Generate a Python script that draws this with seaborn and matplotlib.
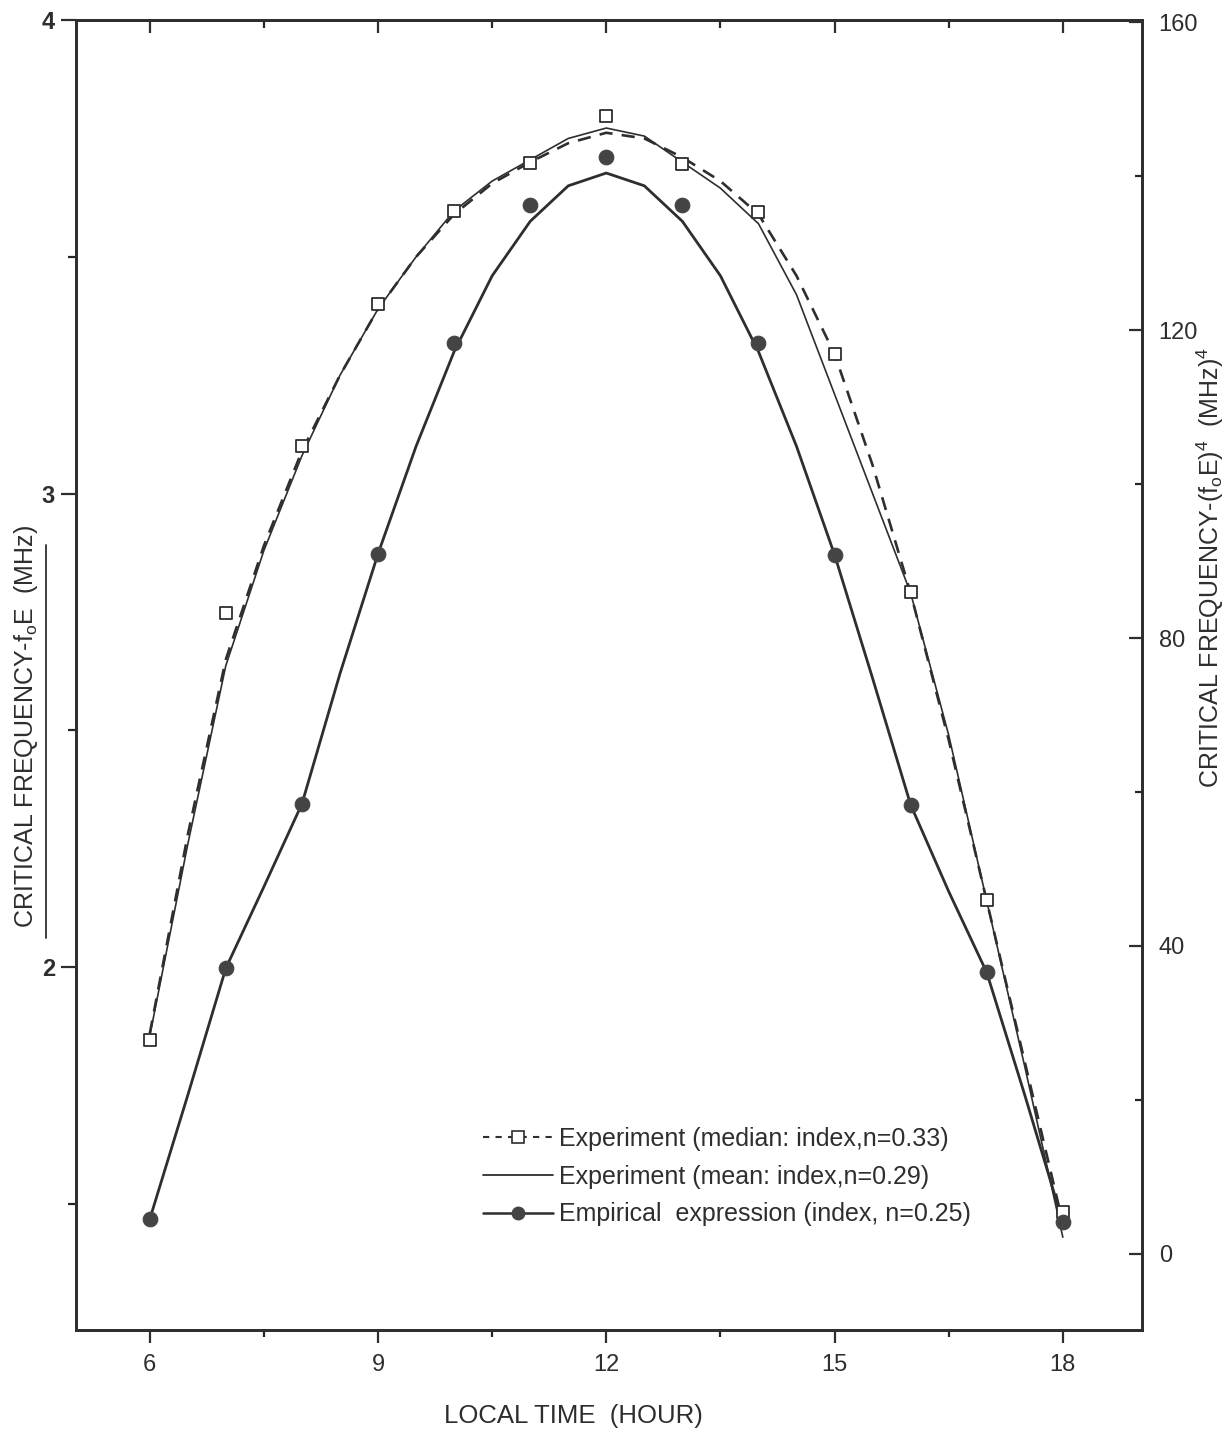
import numpy as np
import pandas as pd
import matplotlib
matplotlib.use("Agg")
import matplotlib.pyplot as plt
import seaborn as sns
from matplotlib.lines import Line2D

# hourly data points (left axis, MHz)
hours = [6, 7, 8, 9, 10, 11, 12, 13, 14, 15, 16, 17, 18]
median_pts = [1.846, 2.749, 3.10, 3.40, 3.597, 3.698, 3.797, 3.696, 3.595, 3.295, 2.793, 2.143, 1.483]
empirical_pts = [1.468, 1.998, 2.345, 2.873, 3.318, 3.610, 3.711, 3.610, 3.318, 2.871, 2.343, 1.989, 1.462]

# fitted curves every half hour
curve_hours = [6.0, 6.5, 7.0, 7.5, 8.0, 8.5, 9.0, 9.5, 10.0, 10.5, 11.0, 11.5, 12.0,
               12.5, 13.0, 13.5, 14.0, 14.5, 15.0, 15.5, 16.0, 16.5, 17.0, 17.5, 18.0]
median_curve = [1.86, 2.28, 2.65, 2.89, 3.09, 3.25, 3.39, 3.50, 3.59, 3.655, 3.70, 3.74, 3.762,
                3.75, 3.71, 3.66, 3.59, 3.46, 3.295, 3.06, 2.79, 2.48, 2.14, 1.80, 1.46]
mean_curve = [1.855, 2.26, 2.637, 2.88, 3.08, 3.25, 3.39, 3.50, 3.597, 3.66, 3.705, 3.75, 3.772,
              3.755, 3.70, 3.645, 3.57, 3.42, 3.21, 3.00, 2.79, 2.49, 2.14, 1.79, 1.43]
empirical_curve = [1.468, 1.73, 1.998, 2.17, 2.345, 2.62, 2.873, 3.10, 3.30, 3.46, 3.575, 3.65, 3.677,
                   3.65, 3.575, 3.46, 3.30, 3.10, 2.871, 2.61, 2.343, 2.16, 1.989, 1.73, 1.462]

labels = ["Experiment (median: index,n=0.33)",
          "Experiment (mean: index,n=0.29)",
          "Empirical  expression (index, n=0.25)"]

ink = "#2e2e2e"

sns.set_style("ticks")
plt.rcParams["font.family"] = ["Liberation Sans", "DejaVu Sans"]
plt.rcParams["mathtext.fontset"] = "custom"
plt.rcParams["mathtext.rm"] = "Liberation Sans"
plt.rcParams["mathtext.it"] = "Liberation Sans:italic"

fig = plt.figure(figsize=(12.27, 14.32), dpi=100)
ax = fig.add_axes([0.0619, 0.0712, 0.8688, 0.9148])

curves = pd.DataFrame({"hour": curve_hours, "median": median_curve,
                       "mean": mean_curve, "emp": empirical_curve})
pts = pd.DataFrame({"hour": hours, "median": median_pts, "emp": empirical_pts})

sns.lineplot(data=curves, x="hour", y="median", ax=ax, color=ink, lw=1.9, ls=(0, (5, 3.5)))
sns.lineplot(data=curves, x="hour", y="mean", ax=ax, color=ink, lw=1.2)
sns.lineplot(data=curves, x="hour", y="emp", ax=ax, color=ink, lw=2.0)
sns.scatterplot(data=pts, x="hour", y="median", ax=ax, marker="s", s=80,
                facecolor="white", edgecolor=ink, linewidth=1.3, zorder=5)
sns.scatterplot(data=pts, x="hour", y="emp", ax=ax, marker="o", s=110,
                color="#444444", edgecolor="#444444", zorder=5)

ax.set_xlim(5.03, 19.04)
ax.set_ylim(1.234, 4.0)
ax.set_xticks([6, 9, 12, 15, 18])
ax.set_xticks([7.5, 10.5, 13.5, 16.5], minor=True)
ax.set_yticks([2, 3, 4])
ax.set_yticks([1.5, 2.5, 3.5], minor=True)
ax.set_xlabel("")
ax.set_ylabel("")
ax.tick_params(axis="x", which="major", direction="out", length=9, width=1.6, pad=8,
               labelsize=17, colors=ink)
ax.tick_params(axis="x", which="minor", direction="out", length=5, width=1.6)
ax.tick_params(axis="y", which="major", direction="out", length=11, width=1.6, pad=4,
               labelsize=17, colors=ink)
ax.tick_params(axis="y", which="minor", direction="out", length=6, width=1.6)
for lab in ax.get_yticklabels():
    lab.set_fontweight("bold")

top = ax.secondary_xaxis("top")
top.set_xticks([6, 9, 12, 15, 18])
top.set_xticks([7.5, 10.5, 13.5, 16.5], minor=True)
top.tick_params(which="major", direction="in", length=9, width=1.6, labeltop=False, colors=ink)
top.tick_params(which="minor", direction="in", length=6, width=1.6)

ax2 = ax.twinx()
ax2.set_ylim(-9.9, 160.3)
ax2.set_yticks([0, 40, 80, 120, 160])
ax2.set_yticks([20, 60, 100, 140], minor=True)
ax2.tick_params(which="major", direction="in", length=9.5, width=1.6, pad=12,
                labelsize=17, colors=ink)
ax2.tick_params(which="minor", direction="in", length=5, width=1.6)

for a in (ax, ax2):
    for sp in a.spines.values():
        sp.set_linewidth(2.0)
        sp.set_color(ink)
top.spines["top"].set_linewidth(2.0)

handles = [
    Line2D([], [], color=ink, lw=1.5, ls=(0, (3, 3)), marker="s", ms=8,
           mfc="white", mec=ink, mew=1.2),
    Line2D([], [], color=ink, lw=1.3),
    Line2D([], [], color=ink, lw=1.8, marker="o", ms=9, mfc="#444444", mec="#444444"),
]
ax.legend(handles, labels, loc="upper left", bbox_to_anchor=(483 / 1227, 1 - 1127 / 1432),
          bbox_transform=fig.transFigure, frameon=False, fontsize=18, handlelength=2.8,
          handletextpad=0.25, labelspacing=0.55, borderpad=0, borderaxespad=0,
          labelcolor=ink)

fig.text(573 / 1227, 1 - 1416 / 1432, "LOCAL TIME  (HOUR)", ha="center", va="center",
         fontsize=18.5, color=ink)
fig.text(26 / 1227, 1 - 727 / 1432, r"CRITICAL FREQUENCY-f$_\mathregular{o}$E  (MHz)",
         rotation=90, ha="center", va="center", fontsize=18, color=ink)
fig.text(1210 / 1227, 1 - 567 / 1432,
         r"CRITICAL FREQUENCY-(f$_\mathregular{o}$E)$^\mathregular{4}$  (MHz)$^\mathregular{4}$",
         rotation=90, ha="center", va="center", fontsize=18, color=ink)
# vertical rule next to the left axis title
fig.add_artist(Line2D([46 / 1227, 46 / 1227], [1 - 545 / 1432, 1 - 938 / 1432],
                      transform=fig.transFigure, color=ink, lw=1.3))

fig.savefig("out.png", dpi=100)
